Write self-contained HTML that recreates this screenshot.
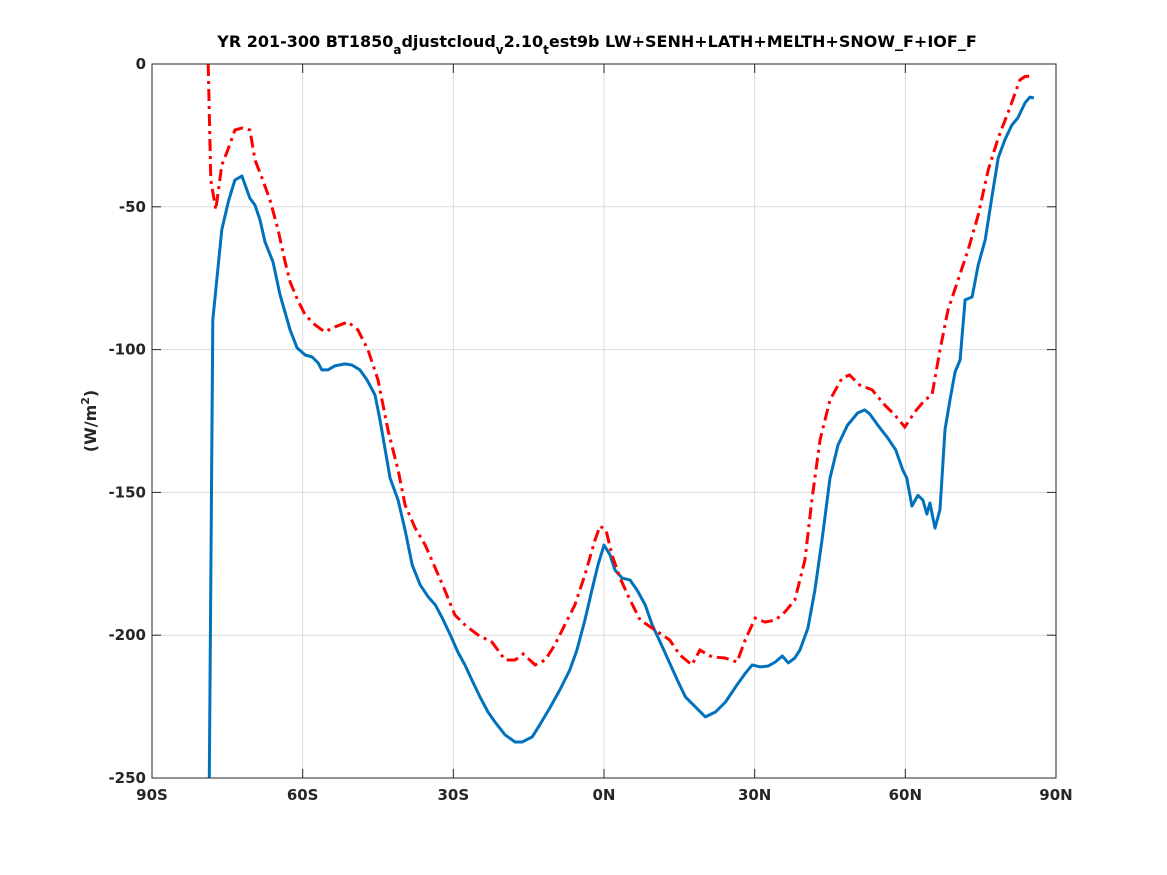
<!DOCTYPE html>
<html><head><meta charset="utf-8"><style>
html,body{margin:0;padding:0;background:#fff;}
svg{display:block;font-family:"DejaVu Sans","Liberation Sans",sans-serif;}
</style></head><body>
<svg id="chart" width="1167" height="875">
<rect x="0" y="0" width="1167" height="875" fill="#fff"/>
<text x="597" y="47" text-anchor="middle" font-size="16" font-weight="bold">YR 201-300 BT1850<tspan font-size="12" dy="7">a</tspan><tspan dy="-7">djustcloud</tspan><tspan font-size="12" dy="7">v</tspan><tspan dy="-7">2.10</tspan><tspan font-size="12" dy="7">t</tspan><tspan dy="-7">est9b LW+SENH+LATH+MELTH+SNOW_F+IOF_F</tspan></text>
<g id="grid"></g>
<g id="ticks"></g>
<g id="series"></g>
<rect x="152" y="64" width="904" height="714" fill="none" stroke="#262626" stroke-width="1"/>
<text transform="translate(96,421) rotate(-90)" text-anchor="middle" font-size="16" font-weight="bold" fill="#262626">(W/m<tspan font-size="11" dy="-7">2</tspan><tspan dy="7">)</tspan></text>
</svg>
<script>
const xTicks=[-90,-60,-30,0,30,60,90];
const xTickLabels=["90S","60S","30S","0N","30N","60N","90N"];
const yTicks=[0,-50,-100,-150,-200,-250];
const yTickLabels=["0","-50","-100","-150","-200","-250"];
const blueLat=[-78.6,-77.9,-76.1,-74.7,-73.5,-72.1,-70.5,-69.5,-68.5,-67.5,-65.9,-64.5,-62.5,-61.1,-59.5,-58.1,-56.9,-56.2,-55,-53.6,-51.6,-50.2,-48.6,-47.2,-45.6,-44.6,-42.6,-41,-39.6,-38.2,-36.6,-35,-33.6,-32.2,-30.6,-29.1,-27.7,-26.3,-24.7,-23.1,-21.7,-19.7,-17.7,-16.3,-14.3,-12.8,-10.8,-8.8,-6.8,-5.4,-3.8,-2.4,-1.2,0,1.2,2.2,3.6,5.2,6.6,8.2,9.6,11.2,12.8,14.6,16.2,18.2,20.2,22.2,24.2,26.2,28.2,29.5,31.1,32.7,34.1,35.5,36.7,38,39,40.6,42,43.4,45,46.6,48.5,50.5,51.9,52.9,54.5,56.5,58.1,59.5,60.3,61.3,62.5,63.5,64.3,64.9,65.9,66.9,67.9,68.9,69.9,70.9,71.9,73.3,74.5,75.9,77.3,78.5,79.8,81.2,82.4,83.8,84.8,85.6];
const blueVal=[-250,-89.6,-58,-47.6,-40.6,-39.2,-47,-49.4,-54.6,-62.3,-69.3,-80.9,-93.1,-99.4,-101.9,-102.6,-104.7,-107.1,-107.1,-105.7,-105,-105.4,-107.1,-110.6,-115.9,-124.6,-145,-152.7,-163.2,-175.4,-182.4,-186.6,-189.4,-194,-199.9,-205.9,-210.4,-215.7,-221.6,-226.9,-230.4,-234.9,-237.4,-237.4,-235.6,-231.4,-225.5,-219.2,-212.2,-205.2,-194.7,-184.2,-175.4,-168.4,-171.9,-177.2,-180,-180.7,-184.2,-189.4,-196.4,-202.4,-208.7,-215.7,-221.6,-225.1,-228.6,-226.9,-223.4,-218.1,-213.2,-210.4,-211.1,-210.8,-209.4,-207.3,-209.7,-208,-205.2,-197.5,-184.2,-166.7,-145,-133.4,-126.4,-122.2,-121.1,-122.5,-126.4,-131,-135.2,-142.2,-145,-154.8,-151,-152.7,-157.6,-153.7,-162.5,-156,-128,-117.6,-107.8,-103.6,-82.6,-81.6,-70.4,-61.6,-45.9,-32.9,-26.6,-21.4,-18.9,-13.7,-11.6,-11.9,-18.9];
const redLat=[-78.8,-78.3,-77.3,-76.1,-74.9,-73.5,-72.1,-70.5,-69.5,-68.1,-66.5,-64.9,-63.5,-62.5,-61,-59.5,-57.5,-55.6,-53.6,-51,-49,-47,-45,-43,-41,-39.6,-37.6,-35.6,-33.6,-31.7,-29.7,-27.7,-25.1,-22.3,-19.7,-17.7,-16.1,-13.7,-11.7,-9.8,-7.8,-5.8,-3.8,-1.8,-0.8,0.4,1.6,3.2,5.2,7.2,10.2,13.1,15.1,17.5,19.1,21.5,24.1,26.5,28.1,30.1,32.1,34.1,36,38,40,41.4,43,45,47.4,48.9,50.9,53.4,55.9,57.9,59.9,61.9,63.9,65.3,66.9,68.5,70.5,72.5,74.5,76.5,78.5,80.8,82.8,83.8,84.8,85.6];
const redVal=[0,-40.6,-51,-35.4,-30.1,-23.1,-22.4,-23.1,-33.6,-39.9,-47.6,-58.1,-69.3,-76.3,-82.6,-87.9,-91.4,-93.8,-92.1,-90.3,-93.1,-100.1,-110.6,-128.2,-142.2,-154.4,-162.5,-168.4,-176.5,-184.2,-192.9,-196.4,-199.9,-202.4,-208.7,-208.7,-206.6,-210.4,-208.7,-203.4,-196.4,-189.4,-178.9,-166.7,-161.8,-163.2,-171.9,-180,-187.7,-194.7,-198.2,-201.7,-206.9,-210.4,-205.2,-207.6,-208,-209.4,-201.7,-194,-195.4,-194.7,-191.9,-187.7,-173.7,-152.7,-131.7,-117.6,-109.9,-108.9,-112.4,-114.1,-119.4,-122.9,-127.1,-121.8,-117.6,-115.9,-100.1,-86.1,-75.6,-65.1,-52.9,-37.1,-25.9,-15.4,-5.6,-4.4,-4.2,-4.2];

const X0=152,X1=1056,Y0=64,Y1=778;
function sx(v){return X0+(v+90)/180*(X1-X0);}
function sy(v){return Y0+(0-v)/250*(Y1-Y0);}
const NS="http://www.w3.org/2000/svg";
function mk(tag,attrs,parent){const e=document.createElementNS(NS,tag);for(const k in attrs)e.setAttribute(k,attrs[k]);parent.appendChild(e);return e;}
const grid=document.getElementById('grid'),ticks=document.getElementById('ticks'),series=document.getElementById('series');
xTicks.forEach((t,i)=>{
  const x=sx(t);
  if(i>0&&i<xTicks.length-1){const g=mk('line',{x1:x,x2:x,y1:Y0,y2:Y1,stroke:'#dcdcdc','stroke-width':1},grid);
  
  }
  const a=mk('line',{x1:x,x2:x,y1:Y1,y2:Y1-9,stroke:'#262626'},ticks);
  
  
  const b=mk('line',{x1:x,x2:x,y1:Y0,y2:Y0+9,stroke:'#262626'},ticks);
  
  
  const l=mk('text',{x:x,y:Y1+22,'text-anchor':'middle','font-size':15,'font-weight':'bold',fill:'#262626'},ticks);
  l.textContent=xTickLabels[i];
  
  
});
yTicks.forEach((t,i)=>{
  const y=sy(t);
  if(i>0&&i<yTicks.length-1){const g=mk('line',{x1:X0,x2:X1,y1:y,y2:y,stroke:'#dcdcdc','stroke-width':1},grid);
  
  }
  const a=mk('line',{x1:X0,x2:X0+9,y1:y,y2:y,stroke:'#262626'},ticks);
  
  
  const b=mk('line',{x1:X1,x2:X1-9,y1:y,y2:y,stroke:'#262626'},ticks);
  
  
  const l=mk('text',{x:X0-6,y:y+5,'text-anchor':'end','font-size':15,'font-weight':'bold',fill:'#262626'},ticks);
  l.textContent=yTickLabels[i];
  
  
});
function pts(la,va){return la.map((v,i)=>sx(v).toFixed(1)+','+sy(va[i]).toFixed(1)).join(' ');}
const bl=mk('polyline',{points:pts(blueLat,blueVal),fill:'none',stroke:'#0072BD','stroke-width':3,'stroke-linejoin':'round'},series);


const rl=mk('polyline',{points:pts(redLat,redVal),fill:'none',stroke:'#FF0000','stroke-width':3,'stroke-dasharray':'12,5,3,5'},series);


</script>
</body></html>
